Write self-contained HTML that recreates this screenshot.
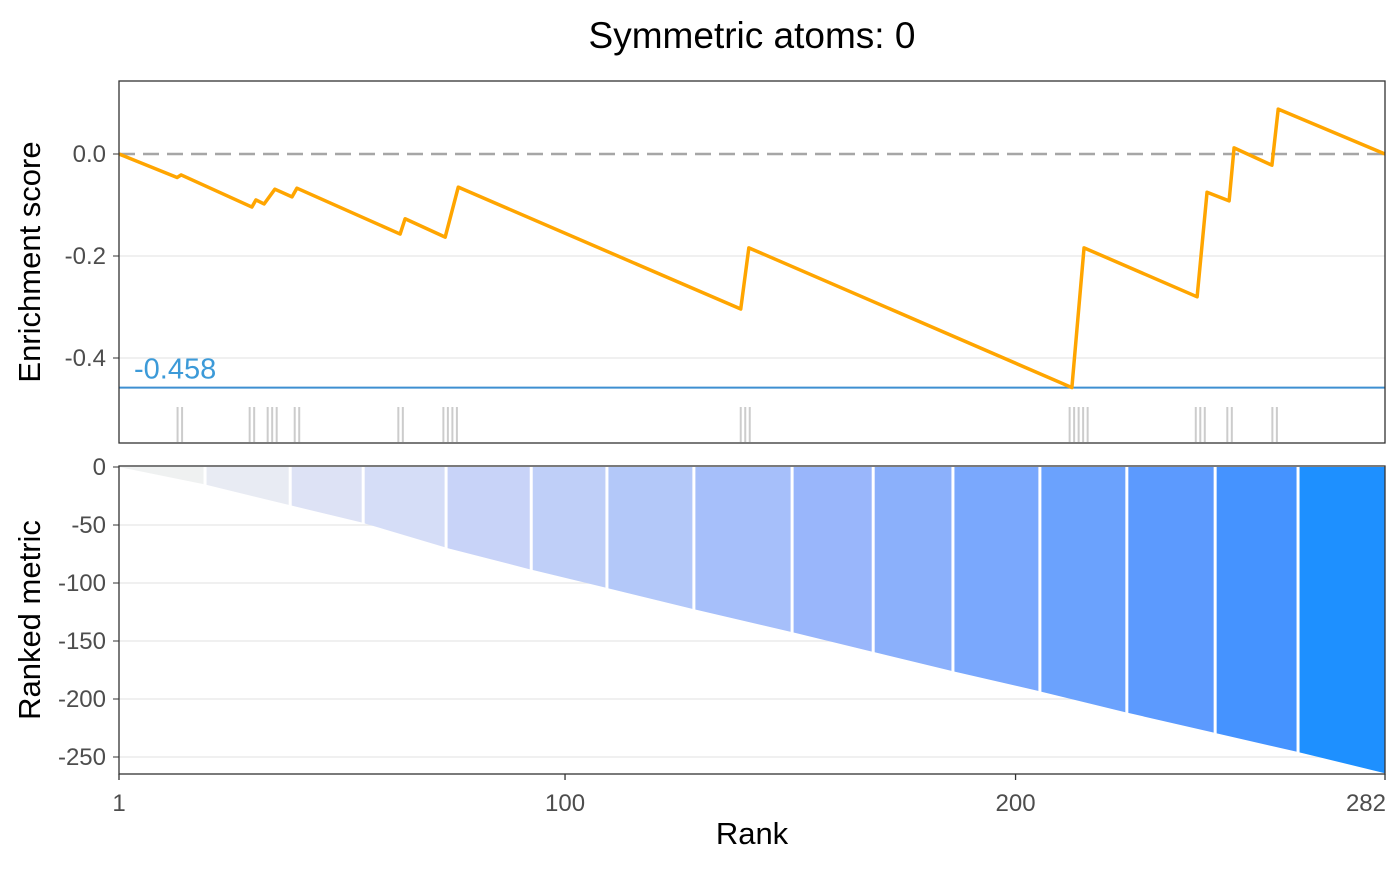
<!DOCTYPE html>
<html><head><meta charset="utf-8"><style>
body{margin:0;background:#fff;}
svg text{font-family:"Liberation Sans",Arial,sans-serif;}
</style></head><body>
<svg id="chart" width="1400" height="866" viewBox="0 0 1400 866" xmlns="http://www.w3.org/2000/svg">
<text x="752" y="48" font-size="37" text-anchor="middle" fill="#000">Symmetric atoms: 0</text>
<g id="topPanel"></g>
<g id="botPanel"></g>
<g id="axesG"></g>
<text transform="translate(40,262) rotate(-90)" font-size="31" text-anchor="middle">Enrichment score</text>
<text transform="translate(40,620) rotate(-90)" font-size="31" text-anchor="middle">Ranked metric</text>
<text x="752" y="844" font-size="31" text-anchor="middle">Rank</text>
</svg>
<script>
const esRanks=[1,13.9,14.8,30.5,31.4,33.2,35.6,39.4,40.5,63.4,64.5,73.4,76.3,139,140.8,212.5,215.2,240.3,242.5,247.4,248.5,256.9,258.3,282];
const esValues=[0,-0.046,-0.041,-0.104,-0.090,-0.098,-0.069,-0.084,-0.067,-0.157,-0.127,-0.163,-0.065,-0.304,-0.184,-0.458,-0.184,-0.280,-0.075,-0.092,0.012,-0.022,0.088,0];
const hitRanks=[14,15,30,31,34,35,36,40,41,63,64,73,74,75,76,139,140,141,212,213,214,215,216,240,241,242,247,248,257,258];
const minES=-0.458;
const esTicks=[0,-0.2,-0.4];
const esTickLabels=["0.0","-0.2","-0.4"];
const metricRanks=[1,20,39,55,74,92,109,129,150,168,186,205,225,244,263,282];
const metricValues=[0,-15,-33,-48,-70,-88,-104,-123,-142,-159,-176,-193,-212,-229,-246,-264];
const bandEdges=[1,20.1,39,55.2,73.6,92.5,109.3,128.6,150.4,168.4,186.1,205.4,224.7,244.3,262.7,282.5];
const bandColors=["#eff1f1","#e8ebf3","#dde2f5","#d5ddf7","#c8d3f8","#bfcff8","#b3c8f9","#a6bffa","#99b6fb","#8bb0fb","#7aa8fd","#6ba2fd","#5c9afe","#4593ff","#1e90ff"];
const metricTicks=[0,-50,-100,-150,-200,-250];
const xTicks=[1,100,200,282];

const NS="http://www.w3.org/2000/svg";
const X0=119,X1=1385;
const xs=r=>X0+(r-1)*(X1-X0)/281;
const yE=v=>154-v*510;
const yM=v=>467-v*1.16;
function mk(tag,attrs,parent){const e=document.createElementNS(NS,tag);for(const k in attrs)e.setAttribute(k,attrs[k]);parent.appendChild(e);return e;}
const topG=document.getElementById('topPanel'),botG=document.getElementById('botPanel'),axG=document.getElementById('axesG');

// top panel
esTicks.forEach((t,i)=>{
  if(t!==0){const g=mk('line',{x1:X0,x2:X1,y1:yE(t),y2:yE(t),stroke:'#ebebeb','stroke-width':1.5},topG);
  
  }
  const l=mk('text',{x:106,y:yE(t)+8,'font-size':24,'text-anchor':'end',fill:'#4d4d4d'},topG);l.textContent=esTickLabels[i];
  
  
  mk('line',{x1:113,x2:X0,y1:yE(t),y2:yE(t),stroke:'#333','stroke-width':1},topG);
});
const zl=mk('line',{x1:X0,x2:X1,y1:yE(0),y2:yE(0),stroke:'#a6a6a6','stroke-width':2.5,'stroke-dasharray':'16 8'},topG);


hitRanks.forEach(r=>{const t=mk('line',{x1:xs(r),x2:xs(r),y1:407,y2:442,stroke:'#aaa','stroke-opacity':0.6,'stroke-width':2},topG);
  
  });
const ml=mk('line',{x1:X0,x2:X1,y1:yE(minES),y2:yE(minES),stroke:'#3d8fd1','stroke-width':2},topG);


const mt=mk('text',{x:134,y:yE(minES)-9,'font-size':29,fill:'#3c9ad8'},topG);mt.textContent=minES.toFixed(3);


const esLine=mk('polyline',{points:esRanks.map((r,i)=>xs(r)+','+yE(esValues[i])).join(' '),fill:'none',stroke:'#ffa500','stroke-width':3.5,'stroke-linejoin':'round'},topG);


mk('rect',{x:X0,y:81,width:X1-X0,height:362,fill:'none',stroke:'#333','stroke-width':1.3},topG);

// bottom panel
metricTicks.forEach(t=>{
  if(t!==0){const g=mk('line',{x1:X0,x2:X1,y1:yM(t),y2:yM(t),stroke:'#ebebeb','stroke-width':1.5},botG);
  
  }
  const l=mk('text',{x:106,y:yM(t)+8,'font-size':24,'text-anchor':'end',fill:'#4d4d4d'},botG);l.textContent=t;
  
  
  mk('line',{x1:113,x2:X0,y1:yM(t),y2:yM(t),stroke:'#333','stroke-width':1},botG);
});
function mval(r){for(let i=0;i<metricRanks.length-1;i++){if(r<=metricRanks[i+1]){const a=metricRanks[i],b=metricRanks[i+1];return metricValues[i]+(metricValues[i+1]-metricValues[i])*(r-a)/(b-a);}}return metricValues[metricValues.length-1];}
for(let b=0;b<bandColors.length;b++){
  const r0=bandEdges[b],r1=Math.min(bandEdges[b+1],282);
  const pts=[[xs(r0),yM(0)],[xs(r1),yM(0)]];
  const ks=[r1];metricRanks.forEach(k=>{if(k>r0&&k<r1)ks.push(k);});ks.sort((a,c)=>c-a);ks.push(r0);
  ks.forEach(k=>pts.push([xs(k),yM(mval(k))]));
  const p=mk('polygon',{points:pts.map(q=>q.join(',')).join(' '),fill:bandColors[b]},botG);
  
  
  if(b>0){mk('line',{x1:xs(r0),x2:xs(r0),y1:yM(0),y2:yM(mval(r0))+1,stroke:'#fff','stroke-width':3},botG);}
}
mk('rect',{x:X0,y:466,width:X1-X0,height:308,fill:'none',stroke:'#333','stroke-width':1.3},botG);

// x axis
xTicks.forEach((t,i)=>{
  mk('line',{x1:xs(t),x2:xs(t),y1:774,y2:780,stroke:'#333','stroke-width':1.3},axG);
  const last=i===xTicks.length-1;
  const l=mk('text',{x:last?1386:xs(t),y:811,'font-size':24,'text-anchor':last?'end':'middle',fill:'#4d4d4d'},axG);l.textContent=t;
  
  
});
</script>
</body></html>
